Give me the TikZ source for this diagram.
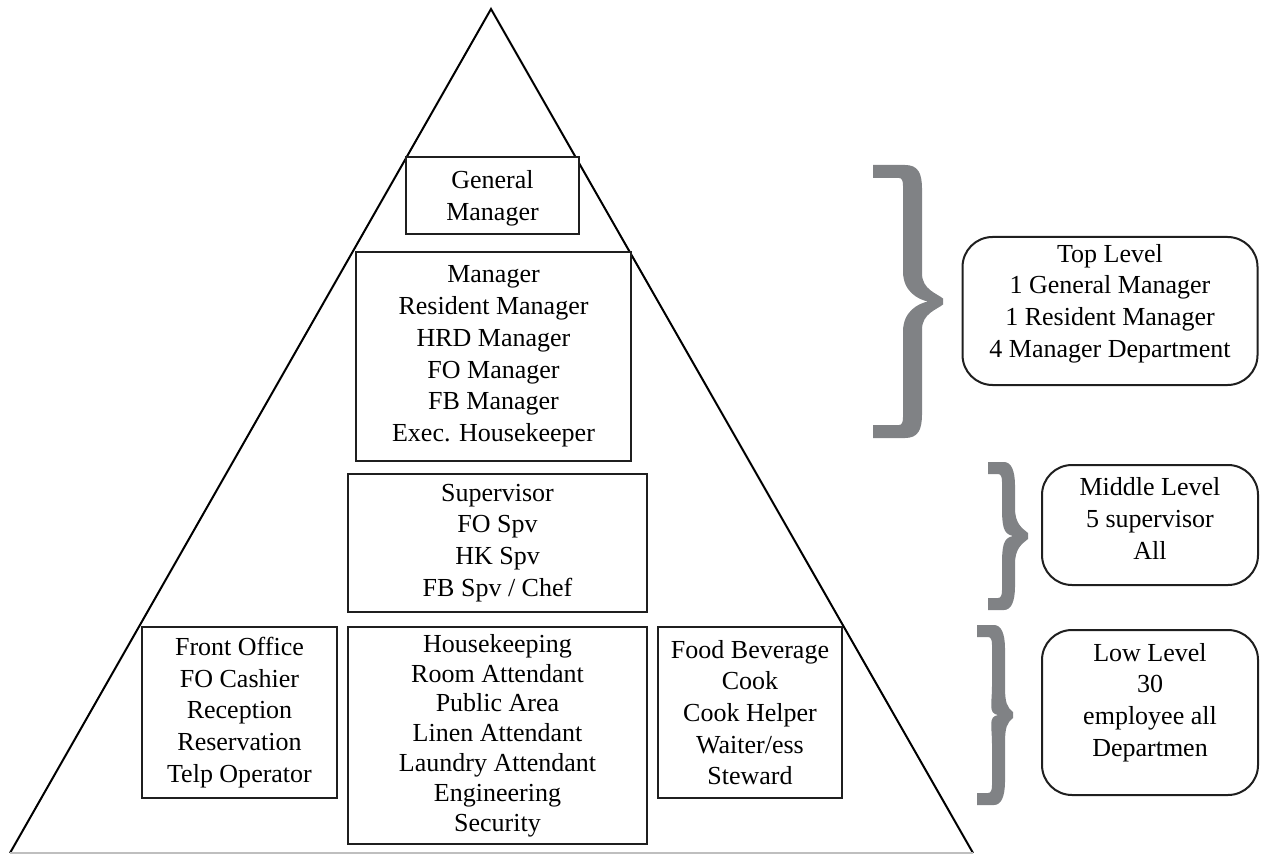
\documentclass[tikz,border=0pt]{standalone}
\usepackage{fontspec}
\setmainfont{Liberation Serif}
\newfontfamily\timesface{Liberation Serif}
\definecolor{bracegray}{RGB}{128,130,133}

% Heavy grey curly brace opening to the left.
% #1 arm end x, #2 stem left x, #3 stem right x, #4 tip x, #5 top y, #6 bottom y, #7 arm thickness
\newcommand{\levelbrace}[7]{%
  \pgfmathsetmacro\bmid{(#5+#6)/2}%
  \fill[bracegray]
    (#1,#5) -- ({#2+2},#5)
    .. controls ({#3-4},#5) and (#3,{#5+8}) .. (#3,{#5+24})
    -- (#3,{\bmid-28})
    .. controls (#3,{\bmid-12}) and ({#4-6},{\bmid-8}) .. (#4,{\bmid-3})
    -- (#4,{\bmid+3})
    .. controls ({#4-6},{\bmid+8}) and (#3,{\bmid+12}) .. (#3,{\bmid+28})
    -- (#3,{#6-24})
    .. controls (#3,{#6-8}) and ({#3-4},#6) .. ({#2+2},#6)
    -- (#1,#6) -- (#1,{#6-#7}) -- ({#2-4},{#6-#7})
    .. controls ({#2-1},{#6-#7}) and (#2,{#6-#7-3}) .. (#2,{#6-#7-8})
    -- (#2,{\bmid+30})
    .. controls (#2,{\bmid+10}) and ({#4-25},{\bmid+2}) .. ({#4-15},\bmid)
    .. controls ({#4-25},{\bmid-2}) and (#2,{\bmid-10}) .. (#2,{\bmid-30})
    -- (#2,{#5+#7+8})
    .. controls (#2,{#5+#7+3}) and ({#2-1},{#5+#7}) .. ({#2-4},{#5+#7})
    -- (#1,{#5+#7}) -- cycle;%
}

\begin{document}
\begin{tikzpicture}[x=0.5pt,y=-0.5pt,
  lbl/.style={font=\timesface\fontsize{13}{15.85}\selectfont, align=center, inner sep=0pt},
  rolebox/.style={lbl, draw=black!88, fill=white, line width=1.3pt},
  levelbox/.style={lbl, draw=black!88, line width=1pt, rounded corners=15pt}]

\useasboundingbox (0,0) rectangle (1261,855);

% pyramid outline
\coordinate (apex) at (491,9);
\coordinate (bl) at (10,853);
\coordinate (br) at (973,853);
\draw[line width=1pt, line join=miter] (bl) -- (apex) -- (br);
\draw[black!25, line width=0.6pt] (bl) -- (br);

% positions in the pyramid
\node[rolebox, minimum width=86.5pt, minimum height=38.5pt, text height=27.7pt] (gm) at (492.5,195.5) {General\\Manager};
\node[rolebox, minimum width=137.5pt, minimum height=104.5pt] (mgr) at (493.5,356.5)
  {Manager\\Resident Manager\\HRD Manager\\FO Manager\\FB Manager\\Exec. Housekeeper};
\node[rolebox, minimum width=149.5pt, minimum height=69pt] (spv) at (497.5,543)
  {Supervisor\\FO Spv\\HK Spv\\FB Spv / Chef};
\node[rolebox, minimum width=97.5pt, minimum height=85.5pt] (fo) at (239.5,712.5)
  {Front Office\\FO Cashier\\Reception\\Reservation\\Telp Operator};
\node[rolebox, font=\timesface\fontsize{13}{14.9}\selectfont, minimum width=149.5pt, minimum height=108.5pt] (hk) at (497.5,735.5)
  {Housekeeping\\Room Attendant\\Public Area\\Linen Attendant\\Laundry Attendant\\Engineering\\Security};
\node[rolebox, minimum width=92pt, minimum height=85.5pt] (fb) at (750,712.5)
  {Food Beverage\\Cook\\Cook Helper\\Waiter/ess\\Steward};

% level braces
\levelbrace{873}{903}{922}{943}{165}{438}{13}
\levelbrace{988}{1002}{1015}{1028}{462}{610}{12}
\levelbrace{977}{992}{1005}{1013}{625}{805}{12}

% level summaries (text sits a little above the middle of each box)
\node[levelbox, minimum width=147.5pt, minimum height=74pt, text depth=10.3pt] (top) at (1110,311)
  {Top Level\\1 General Manager\\1 Resident Manager\\4 Manager Department};
\node[levelbox, minimum width=108pt, minimum height=60pt, text depth=6.5pt] (mid) at (1150,525)
  {Middle Level\\5 supervisor\\All};
\node[levelbox, minimum width=108pt, minimum height=82.5pt, text depth=12.8pt] (low) at (1150,712.5)
  {Low Level\\30\\employee all\\Departmen};

\end{tikzpicture}
\end{document}
